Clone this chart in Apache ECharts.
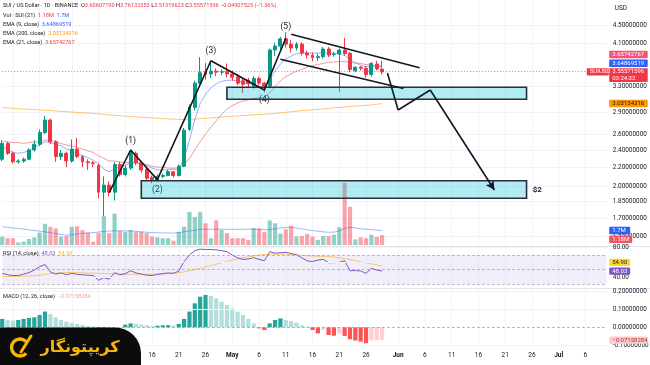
<!DOCTYPE html>
<html><head><meta charset="utf-8">
<script src="https://cdn.jsdelivr.net/npm/echarts@6.0.0/dist/echarts.min.js"></script>
<style>html,body{margin:0;padding:0;background:#fff;overflow:hidden}#c{width:650px;height:365px}</style>
</head><body><div id="c"></div>
<script>
// ---------------- data ----------------
const startDay = Date.UTC(2025, 2, 19);
const dayCount = 114;
const categories = [];
for (let k = 0; k < dayCount; k++) categories.push(new Date(startDay + k * 86400000).toISOString().slice(0, 10));

const open = [2.29,2.48,2.36,2.26,2.27,2.29,2.40,2.47,2.62,2.79,
 2.50,2.32,2.36,2.27,2.41,2.32,2.26,2.25,2.22,1.94,
 2.01,1.94,2.23,2.12,2.19,2.36,2.25,2.18,2.09,2.06,
 2.10,2.11,2.15,2.11,2.21,2.66,2.97,3.36,3.56,3.52,
 3.57,3.55,3.56,3.52,3.47,3.40,3.41,3.31,3.44,3.36,
 3.31,3.97,4.05,4.20,4.09,4.01,4.09,3.91,3.87,3.82,
 3.84,3.99,3.88,3.89,3.97,3.90,3.58,3.64,3.62,3.51,
 3.70,3.606];
const close = [2.48,2.36,2.26,2.27,2.29,2.40,2.47,2.62,2.79,2.50,
 2.32,2.36,2.27,2.41,2.32,2.26,2.25,2.24,1.94,2.01,
 1.94,2.23,2.12,2.19,2.38,2.25,2.17,2.08,2.06,2.10,
 2.11,2.15,2.11,2.21,2.65,2.98,3.36,3.54,3.51,3.57,
 3.55,3.56,3.52,3.46,3.36,3.34,3.35,3.44,3.36,3.31,
 3.97,4.05,4.20,4.09,4.01,4.09,3.91,3.87,3.82,3.84,
 3.99,3.87,3.89,3.97,3.90,3.60,3.64,3.62,3.51,3.71,
 3.61,3.5557];
const low = [2.27,2.34,2.24,2.24,2.25,2.28,2.38,2.45,2.60,2.47,
 2.26,2.28,2.20,2.25,2.30,2.20,2.17,2.20,1.88,1.72,
 1.90,1.86,2.10,2.10,2.17,2.22,2.14,2.06,2.03,2.05,
 2.08,2.10,2.09,2.10,2.20,2.64,2.93,3.30,3.42,3.45,
 3.48,3.50,3.46,3.40,3.33,3.20,3.29,3.27,3.32,3.21,
 3.29,3.85,3.98,4.02,3.92,3.96,3.86,3.80,3.75,3.76,
 3.80,3.83,3.84,3.22,3.86,3.55,3.55,3.58,3.45,3.47,
 3.58,3.513];
const high = [2.52,2.50,2.38,2.29,2.31,2.42,2.52,2.66,2.85,2.81,
 2.52,2.40,2.38,2.53,2.55,2.34,2.29,2.27,2.24,2.10,
 2.05,2.26,2.26,2.22,2.40,2.38,2.27,2.20,2.11,2.12,
 2.13,2.17,2.16,2.23,2.68,3.02,3.40,3.83,3.72,3.76,
 3.62,3.60,3.71,3.58,3.52,3.44,3.45,3.48,3.47,3.38,
 4.00,4.12,4.24,4.34,4.18,4.13,4.13,3.96,3.92,3.90,
 4.03,4.03,3.93,4.00,4.22,3.93,3.66,3.66,3.66,3.74,
 3.76,3.761];
const volume = [1.0,0.8,0.8,0.3,0.4,0.7,0.9,1.45,2.5,2.15,
 1.95,1.0,1.05,2.15,2.2,1.75,1.45,0.4,1.4,3.4,
 1.4,3.7,1.65,1.55,1.75,1.55,1.55,1.4,1.0,0.9,
 0.8,0.8,0.5,1.55,2.15,3.9,3.3,3.9,2.55,0.8,
 2.9,1.75,1.4,0.8,0.8,0.8,0.6,2.0,1.95,1.55,
 2.9,2.55,1.35,1.85,2.25,1.0,1.05,1.3,1.0,0.6,
 1.05,1.05,1.2,2.1,7.3,4.5,0.65,0.9,0.8,1.2,
 0.98,1.18];
const volumeMA = [2.15,2.08,2.00,1.93,1.87,1.78,1.70,1.62,1.55,1.45,
 1.35,1.25,1.15,1.20,1.28,1.36,1.42,1.45,1.52,1.60,
 1.64,1.68,1.67,1.66,1.65,1.60,1.55,1.50,1.46,1.44,
 1.42,1.41,1.40,1.45,1.55,1.65,1.74,1.84,1.85,1.85,
 1.86,1.86,1.85,1.84,1.84,1.85,1.86,1.87,1.85,1.80,
 1.82,1.90,2.00,2.05,2.08,2.00,1.90,1.78,1.70,1.62,
 1.55,1.50,1.52,1.65,1.95,2.08,2.00,1.92,1.85,1.80,
 1.75,1.70];
const ema9 = [2.44,2.41,2.37,2.36,2.37,2.39,2.43,2.46,2.50,2.49,
 2.47,2.45,2.41,2.39,2.36,2.33,2.31,2.28,2.24,2.18,
 2.15,2.18,2.21,2.22,2.25,2.25,2.24,2.22,2.19,2.17,
 2.17,2.17,2.18,2.17,2.30,2.52,2.80,3.03,3.18,3.28,
 3.35,3.39,3.41,3.41,3.40,3.38,3.35,3.33,3.30,3.28,
 3.42,3.57,3.70,3.79,3.85,3.90,3.91,3.91,3.91,3.91,
 3.92,3.91,3.91,3.90,3.86,3.79,3.72,3.68,3.65,3.66,
 3.655,3.6487];
const ema21 = [2.51,2.50,2.49,2.49,2.48,2.49,2.50,2.50,2.52,2.52,
 2.50,2.48,2.46,2.45,2.43,2.41,2.39,2.37,2.33,2.30,
 2.27,2.27,2.26,2.25,2.26,2.25,2.24,2.23,2.21,2.20,
 2.20,2.19,2.19,2.19,2.23,2.30,2.40,2.50,2.60,2.69,
 2.78,2.87,2.95,3.00,3.04,3.07,3.09,3.11,3.12,3.13,
 3.20,3.30,3.40,3.47,3.52,3.57,3.60,3.64,3.67,3.69,
 3.71,3.73,3.74,3.74,3.75,3.73,3.72,3.71,3.69,3.68,
 3.67,3.6574];
const ema200 = [2.970,2.965,2.961,2.955,2.950,2.946,2.940,2.935,2.931,2.925,
 2.920,2.914,2.910,2.905,2.899,2.895,2.890,2.884,2.878,2.870,
 2.863,2.857,2.851,2.846,2.840,2.835,2.830,2.825,2.820,2.815,
 2.810,2.806,2.802,2.799,2.799,2.800,2.803,2.808,2.814,2.820,
 2.826,2.832,2.838,2.844,2.849,2.854,2.859,2.864,2.868,2.872,
 2.878,2.885,2.893,2.901,2.909,2.917,2.924,2.931,2.938,2.945,
 2.952,2.959,2.966,2.973,2.980,2.987,2.993,2.999,3.005,3.012,
 3.020,3.0313];
const rsi = [45,43,42,42,44,46,49.5,54,57,47,
 44,45.5,43,45,43.6,43,42.5,42,35.5,39,
 37,46,43,44.5,48.5,45.5,44,42.5,42,43.5,
 44.5,45.5,45,48,61,70,76,78,77.5,77.5,
 77,76,74.5,70,66,64,64.5,66.4,64,62.3,
 74.5,72.5,73,73.6,72,70.5,66,62,61,63,
 64,59.5,59.5,60,62.3,48.6,48.8,48.2,45,51.8,
 49.5,48.03];
const rsiMA = [40.4,40.5,40.7,40.9,41.1,41.3,41.5,42.5,43.5,44.5,
 45.2,45.6,45.8,45.9,45.8,45.6,45.4,45.2,45.0,44.8,
 44.5,44.3,44.1,43.9,43.8,43.7,43.6,43.6,43.7,44.0,
 44.3,44.7,45.2,45.9,47.0,48.5,50.0,51.8,53.6,55.5,
 57.4,59.3,61.2,63.2,64.8,66.2,67.5,68.6,70.0,70.5,
 71.0,71.2,71.3,71.3,70.5,70.0,69.5,69.0,68.7,68.4,
 68.2,68.0,67.2,66.2,65.0,63.6,62.2,60.8,59.4,58.0,
 56.5,54.9];
const macdHist = [0.047,0.041,0.037,0.041,0.047,0.052,0.056,0.069,0.088,0.074,
 0.056,0.041,0.032,0.024,0.019,0.013,0.007,0.004,-0.006,-0.011,
 -0.010,-0.006,-0.004,0.015,0.022,0.020,0.015,0.011,0.007,0.009,
 0.011,0.012,0.010,0.019,0.047,0.088,0.134,0.171,0.181,0.176,
 0.162,0.143,0.125,0.106,0.088,0.069,0.047,0.022,-0.006,-0.015,
 0.022,0.041,0.050,0.041,0.035,0.026,0.011,0.004,-0.015,-0.034,
 -0.015,-0.043,-0.047,-0.034,-0.048,-0.067,-0.074,-0.080,-0.089,-0.073,
 -0.072,-0.07158];

// tick labels
const priceTicks = [4.5, 4.1, 3.3, 2.9, 2.6, 2.4, 2.2, 2.0, 1.85, 1.7, 1.55];
const rsiTicks = [80, 60, 40];
const rsiLevels = [70, 50, 30];
const macdTicks = [0.2, 0.1, 0, -0.1];

// drawings (category index, price)
const waveIdx = [20, 24, 29, 39, 49, 53];
const wavePrice = [1.935, 2.399, 2.066, 3.762, 3.246, 4.212];
const waveLabels = ['', '(1)', '(2)', '(3)', '(4)', '(5)'];
const channelUpper = [[54, 4.30], [78, 3.63]];
const channelLower = [[52, 3.79], [75, 3.27]];
const projection = [[72, 3.536], [74, 2.935], [80, 3.245], [92, 1.961]];
const zones = [[26, 98, 1.881, 2.055], [42, 98, 3.097, 3.29]];
const target = {idx: 100, price: 1.966, text: '$2'};

// header / legend texts
const symbolTitle = 'SUI / US Dollar · 1D · BINANCE';
const ohlcText = {O: '3.60607190', H: '3.76132353', L: '3.51319623', C: '3.55571596', chg: '−0.04907525 (−1.36%)'};
const lastVals = {ema9: '3.64869519', ema21: '3.65742767', ema200: '3.03134316', price: '3.55571596', vol: '1.18M', volMA: '1.7M', rsi: '48.03', rsiMA: '54.90', macd: '−0.07158284', countdown: '03:24:32'};

// ---------------- styles ----------------
const FONT = 'Roboto, "Liberation Sans", sans-serif';
const UP = '#089981', DN = '#f23645';
const labelPos = [null, ['top', 4.5], ['bottom', 5.5], ['top', 5.5], ['bottom', 5.5], ['top', 6.5]];
const LABEL_DAYS = [1, 6, 11, 16, 21, 26];
const MONTHS = ['Jan','Feb','Mar','Apr','May','Jun','Jul','Aug','Sep','Oct','Nov','Dec'];
const isLabelDay = (v) => LABEL_DAYS.indexOf(+v.slice(8, 10)) >= 0;

const L = 2.2, R = 43.2;
const grids = [
  {left: L, right: R, top: 0, height: 246},
  {left: L, right: R, top: 180, height: 65},
  {left: L, right: R, top: 246, height: 42},
  {left: L, right: R, top: 289, height: 58}
];
const xAxes = grids.map((g, k) => ({
  type: 'category', gridIndex: k, data: categories, boundaryGap: false,
  axisLine: {show: false}, axisTick: {show: false},
  splitLine: {show: k !== 1, interval: (i, v) => isLabelDay(v), lineStyle: {color: '#f0f3fa', width: 1}},
  axisLabel: k === 3 ? {
    show: true, interval: (i, v) => isLabelDay(v), margin: 5, fontSize: 6.5, color: '#131722', fontFamily: FONT,
    formatter: (v) => { const d = +v.slice(8, 10); return d === 1 ? '{b|' + MONTHS[+v.slice(5, 7) - 1] + '}' : String(d); },
    rich: {b: {fontWeight: 'bold', fontSize: 6.5, color: '#131722', fontFamily: FONT}}
  } : {show: false}
}));
const yAxes = [
  {type: 'log', gridIndex: 0, min: 1.479, max: 5.108, show: false},
  {type: 'value', gridIndex: 1, min: 0, max: 7.647, show: false},
  {type: 'value', gridIndex: 2, min: 24.95, max: 82.3, show: false},
  {type: 'value', gridIndex: 3, min: -0.110, max: 0.214, show: false}
];

const candleData = open.map((o, i) => [o, close[i], low[i], high[i]]);
const volData = volume.map((v, i) => ({value: v, itemStyle: {color: close[i] >= open[i] ? 'rgba(8,153,129,0.45)' : 'rgba(242,54,69,0.45)'}}));
const macdData = macdHist.map((v, i) => {
  const prev = i ? macdHist[i - 1] : -Infinity;
  let c;
  if (v >= 0) c = v >= prev ? '#26a69a' : '#b2dfdb'; else c = v < prev ? '#ff5252' : '#ffcdd2';
  return {value: v, itemStyle: {color: c}};
});

const faint = {color: '#f0f3fa', width: 1, type: 'solid'};
const segs = (pts) => { const out = []; for (let k = 0; k < pts.length - 1; k++) out.push([{coord: pts[k]}, {coord: pts[k + 1]}]); return out; };
const projSegs = segs(projection);
projSegs[projSegs.length - 1][1].symbol = 'arrow';
projSegs[projSegs.length - 1][1].symbolSize = [7, 9];

const option = {
  animation: false,
  backgroundColor: '#ffffff',
  grid: grids, xAxis: xAxes, yAxis: yAxes,
  series: [
    {type: 'candlestick', name: 'SUIUSD', xAxisIndex: 0, yAxisIndex: 0, data: candleData, barWidth: 3.4, clip: false, z: 4,
      itemStyle: {color: UP, color0: DN, borderColor: UP, borderColor0: DN, borderWidth: 1},
      markLine: {silent: true, symbol: ['none', 'none'], label: {show: false}, z: 1,
        data: priceTicks.map(v => ({yAxis: v, lineStyle: faint})).concat([
          {yAxis: close[close.length - 1], lineStyle: {color: DN, width: 1, type: [1, 2], opacity: 0.7}}
        ])}
    },
    {type: 'line', name: 'EMA200', xAxisIndex: 0, yAxisIndex: 0, data: ema200, showSymbol: false, z: 3,
      lineStyle: {color: 'rgba(255,152,0,0.55)', width: 1}},
    {type: 'line', name: 'EMA21', xAxisIndex: 0, yAxisIndex: 0, data: ema21, showSymbol: false, z: 3,
      lineStyle: {color: 'rgba(242,54,69,0.5)', width: 1}},
    {type: 'line', name: 'EMA9', xAxisIndex: 0, yAxisIndex: 0, data: ema9, showSymbol: false, z: 3,
      lineStyle: {color: 'rgba(41,98,255,0.5)', width: 1}},
    {type: 'bar', name: 'Vol', xAxisIndex: 1, yAxisIndex: 1, data: volData, barWidth: 4.2, clip: false, z: 2},
    {type: 'line', name: 'VolMA', xAxisIndex: 1, yAxisIndex: 1, data: volumeMA, showSymbol: false, z: 3,
      lineStyle: {color: 'rgba(41,98,255,0.45)', width: 1}},
    {type: 'line', name: 'Waves', xAxisIndex: 0, yAxisIndex: 0, z: 8,
      data: waveIdx.map((x, k) => [x, wavePrice[k]]), showSymbol: false,
      lineStyle: {color: '#131722', width: 1.6},
      markArea: {silent: true, z: 7,
        itemStyle: {color: 'rgba(0,188,212,0.3)', borderColor: '#2a2e39', borderWidth: 1.6},
        data: zones.map(z => [{coord: [z[0], z[3]]}, {coord: [z[1], z[2]]}])},
      markLine: {silent: true, symbol: ['none', 'none'], label: {show: false}, z: 8,
        lineStyle: {color: '#131722', width: 1.6, type: 'solid'},
        data: segs(channelUpper).concat(segs(channelLower), projSegs)},
      markPoint: {silent: true, symbol: 'circle', symbolSize: 0.1, itemStyle: {color: 'rgba(0,0,0,0)'},
        label: {show: true, color: '#131722', fontSize: 8.5, fontFamily: FONT, formatter: p => p.name},
        data: waveLabels.map((t, k) => t ? {name: t, coord: [waveIdx[k], wavePrice[k]], label: {position: labelPos[k][0], distance: labelPos[k][1]}} : null)
          .filter(Boolean)
          .concat([{name: target.text, coord: [target.idx, target.price], label: {position: 'inside', fontWeight: 'bold', fontSize: 8}}])}
    },
    {type: 'line', name: 'RSI', xAxisIndex: 2, yAxisIndex: 2, data: rsi, showSymbol: false, z: 4,
      lineStyle: {color: '#7e57c2', width: 1},
      markArea: {silent: true, itemStyle: {color: 'rgba(126,87,194,0.1)'}, data: [[{yAxis: rsiLevels[0]}, {yAxis: rsiLevels[2]}]]},
      markLine: {silent: true, symbol: ['none', 'none'], label: {show: false},
        data: rsiTicks.map(v => ({yAxis: v, lineStyle: faint})).concat(
          rsiLevels.map(v => ({yAxis: v, lineStyle: {color: '#9598a1', width: 0.8, type: [2.5, 2.5], opacity: 0.9}})))}
    },
    {type: 'line', name: 'RSI MA', xAxisIndex: 2, yAxisIndex: 2, data: rsiMA, showSymbol: false, z: 3,
      lineStyle: {color: '#f5c766', width: 1}},
    {type: 'bar', name: 'MACD', xAxisIndex: 3, yAxisIndex: 3, data: macdData, barWidth: 4.2, clip: false, z: 3,
      markLine: {silent: true, symbol: ['none', 'none'], label: {show: false},
        data: macdTicks.map(v => ({yAxis: v, lineStyle: v === 0 ? {color: '#9598a1', width: 0.8, type: [2.5, 2.5]} : faint}))}
    }
  ]
};

const chart = echarts.init(document.getElementById('c'), null, {renderer: 'canvas', width: 650, height: 365});
chart.setOption(option);

// ---------------- right scale labels & tags (positioned through the axes) ----------------
const py = (v, ax) => chart.convertToPixel({yAxisIndex: ax}, v);
const xEnd = chart.convertToPixel({xAxisIndex: 0}, categories.length - 1);
const TX = xEnd + 6, TAGX = xEnd + 2.4, TAGW = 38.5, TH = 7.4, GAP = 1.3;
const G = [];
const text = (x, y, s, size, color, z) => ({type: 'text', silent: true, z: z || 100,
  style: {x: x, y: y, text: s, fill: color, fontSize: size, fontFamily: FONT, align: 'left', verticalAlign: 'middle'}});
const rect = (x, y, w, h, fill) => ({type: 'rect', silent: true, z: 120, shape: {x: x, y: y, width: w, height: h, r: 1}, style: {fill: fill}});
function tag(top, h, bg, fg, lines, w, x) {
  G.push(rect(x || TAGX, top, w || TAGW, h, bg));
  lines.forEach((s, k) => G.push(text((x || TAGX) + 3, top + TH / 2 + k * 6.4, s, 6, fg, 121)));
}

priceTicks.forEach(v => G.push(text(TX, py(v, 0), v.toFixed(8), 6.4, '#131722')));
rsiTicks.forEach(v => G.push(text(TX, py(v, 2), v.toFixed(2), 6.4, '#131722')));
macdTicks.forEach(v => G.push(text(TX, py(v, 3), v.toFixed(8), 6.4, '#131722')));
G.push(text(TX + 2, 8, 'USD', 6.4, '#131722'));

// price tags
const yP = py(close[close.length - 1], 0);
const redTop = yP - TH / 2;
const blueBottom = Math.min(py(ema9[ema9.length - 1], 0) + TH / 2, redTop - GAP);
const pinkBottom = Math.min(py(ema21[ema21.length - 1], 0) + TH / 2, blueBottom - TH - GAP);
tag(pinkBottom - TH, TH, '#f7527a', '#ffffff', [lastVals.ema21]);
tag(blueBottom - TH, TH, '#2962ff', '#ffffff', [lastVals.ema9]);
tag(redTop, TH + 6.4, DN, '#ffffff', [lastVals.price, lastVals.countdown]);
tag(py(ema200[ema200.length - 1], 0) - TH / 2, TH, '#ff9800', '#131722', [lastVals.ema200]);
tag(yP - TH / 2, TH, DN, '#ffffff', ['SUIUSD'], 22, xEnd - 20);

// volume tags
const yVMA = py(volumeMA[volumeMA.length - 1], 1);
tag(yVMA - TH / 2, TH, '#2962ff', '#ffffff', [lastVals.volMA], 21);
tag(Math.max(py(volume[volume.length - 1], 1) - TH / 2, yVMA + TH / 2 + GAP), TH, '#f7525f', '#ffffff', [lastVals.vol], 23);

// RSI tags
const yR = py(rsi[rsi.length - 1], 2);
tag(yR - TH / 2, TH, '#7e57c2', '#ffffff', [lastVals.rsi], 21);
tag(Math.min(py(rsiMA[rsiMA.length - 1], 2) + TH / 2, yR - TH / 2 - GAP) - TH, TH, '#fdd835', '#131722', [lastVals.rsiMA], 21);

// MACD tag
tag(py(macdHist[macdHist.length - 1], 3) - TH / 2, TH, '#fccbcd', '#c62828', [lastVals.macd]);

// pane separators
[246.5, 288.5].forEach(y => G.push({type: 'line', silent: true, z: 50, shape: {x1: 0, y1: y, x2: 650, y2: y}, style: {stroke: '#e0e3eb', lineWidth: 1}}));

// legends
const HS = 5.6;
const rich = (c) => ({fill: c, fontSize: HS, fontFamily: FONT});
G.push({type: 'text', silent: true, z: 100, style: {x: 3, y: 6, verticalAlign: 'middle', fontSize: HS, fontFamily: FONT,
  text: '{d|' + symbolTitle + '}  {d|O}{r|' + ohlcText.O + '} {d|H}{r|' + ohlcText.H + '} {d|L}{r|' + ohlcText.L + '} {d|C}{r|' + ohlcText.C + '} {r|' + ohlcText.chg + '}',
  rich: {d: rich('#131722'), r: rich(DN)}}});
const legendLines = [
  ['Vol · SUI (21)', [[lastVals.vol, DN], [lastVals.volMA, '#2962ff']], 16],
  ['EMA (9, close)', [[lastVals.ema9, '#2962ff']], 25],
  ['EMA (200, close)', [[lastVals.ema200, '#ff9800']], 34],
  ['EMA (21, close)', [[lastVals.ema21, '#f23645']], 43],
  ['RSI (14, close)', [[lastVals.rsi, '#7e57c2'], [lastVals.rsiMA, '#f5b82e']], 254],
  ['MACD (12, 26, close)', [[lastVals.macd, '#f7a1a8']], 297]
];
legendLines.forEach(([t, vals, y]) => {
  const richMap = {d: rich('#131722')};
  let s = '{d|' + t + '}';
  vals.forEach(([v, c], k) => { richMap['v' + k] = rich(c); s += '  {v' + k + '|' + v + '}'; });
  G.push({type: 'text', silent: true, z: 100, style: {x: 3, y: y, verticalAlign: 'middle', fontSize: HS, fontFamily: FONT, text: s, rich: richMap}});
});

// watermark
G.push({type: 'rect', silent: true, z: 200, shape: {x: 0, y: 327.5, width: 141, height: 40, r: [0, 26, 0, 0]}, style: {fill: '#0c0c0c'}});
G.push({type: 'arc', silent: true, z: 201, shape: {cx: 20, cy: 347.5, r: 8.5, startAngle: 0.75, endAngle: 5.55, clockwise: true}, style: {stroke: '#f5b50e', lineWidth: 3.4, fill: null}});
G.push({type: 'line', silent: true, z: 202, shape: {x1: 21, y1: 352, x2: 31, y2: 336}, style: {stroke: '#f5b50e', lineWidth: 3, lineCap: 'round'}});
G.push({type: 'text', silent: true, z: 202, style: {x: 80, y: 348, text: 'کریپتونگار', fill: '#f5b50e', fontSize: 16, fontWeight: 'bold', fontFamily: '"DejaVu Sans", sans-serif', align: 'center', verticalAlign: 'middle'}});

chart.setOption({graphic: {elements: G}});
</script></body></html>
